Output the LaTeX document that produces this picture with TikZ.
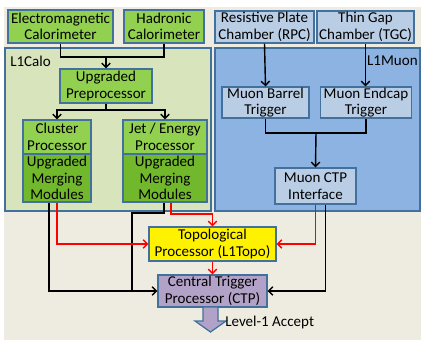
\documentclass[tikz,border=0pt]{standalone}
\usepackage{fontspec}
\setmainfont{Carlito}
\usetikzlibrary{arrows.meta}

\definecolor{paper}{HTML}{EEECE1}
\definecolor{calogreen}{HTML}{92D050}
\definecolor{mmgreen}{HTML}{72B82C}
\definecolor{caloregion}{HTML}{D8E4BC}
\definecolor{muonregion}{HTML}{8DB3E2}
\definecolor{muonbox}{HTML}{B9CDE5}
\definecolor{ctppurple}{HTML}{B3A2C7}
\definecolor{edgeblue}{HTML}{41719C}

\begin{document}
\begin{tikzpicture}[
            x=0.025cm, y=-0.025cm,
            every node/.style={font=\fontsize{10.7}{11.7}\selectfont, align=center, inner sep=0pt},
            sz/.style 2 args={minimum width=#1*0.025cm, minimum height=#2*0.025cm},
            box/.style={draw=edgeblue, line width=0.9pt},
            calobox/.style={box, fill=calogreen},
            mmbox/.style={box, fill=mmgreen},
            muonbx/.style={box, fill=muonbox},
            conn/.style={line width=1pt},
            tip/.style={-{Straight Barb[length=3pt,width=6pt]}},
            ]
            \useasboundingbox (0,0) rectangle (421,341);
            \fill[paper] (4,7) rectangle (421,340);

            % trigger regions
            \draw[box, fill=caloregion] (5,48) rectangle (211,211);
            \draw[box, fill=muonregion] (215,48) rectangle (420,211);
            \node[anchor=west] (calolabel) at (10,61) {L1Calo};
            \node[anchor=east] (muonlabel) at (418,61) {L1Muon};

            % detectors
            \node[calobox, sz={105}{33}] (em) at (60.5,26.5) {Electromagnetic\\Calorimeter};
            \node[calobox, sz={80}{33}] (had) at (164,26.5) {Hadronic\\Calorimeter};
            \node[muonbx, sz={99}{32}] (rpc) at (264.5,27) {Resistive Plate\\Chamber (RPC)};
            \node[muonbx, sz={97}{32}] (tgc) at (365.5,27) {Thin Gap\\Chamber (TGC)};

            % L1Calo
            \node[calobox, sz={92}{34}] (pre) at (106,86) {Upgraded\\Preprocessor};
            \node[calobox, sz={68}{34}] (clus) at (57,137) {Cluster\\Processor};
            \node[mmbox, sz={68}{48}] (clusmm) at (57,178) {Upgraded\\Merging\\Modules};
            \node[calobox, sz={84}{34}] (jet) at (165,137) {Jet / Energy\\Processor};
            \node[mmbox, sz={84}{48}] (jetmm) at (165,178) {Upgraded\\Merging\\Modules};

            % L1Muon
            \node[muonbx, sz={87}{31}] (barrel) at (265.5,102.5) {Muon Barrel\\Trigger};
            \node[muonbx, sz={91}{31}] (endcap) at (366,102.5) {Muon Endcap\\Trigger};
            \node[muonbx, sz={81}{36}] (muctp) at (315.5,186) {Muon CTP\\Interface};

            % topo and CTP
            \node[box, fill=yellow, sz={127}{34}] (topo) at (212.5,244) {Topological\\Processor (L1Topo)};
            \node[box, fill=ctppurple, sz={109}{32}] (ctp) at (212.5,291) {Central Trigger\\Processor (CTP)};

            \coordinate (calojoin) at (106,57);
            \coordinate (prejoin) at (106,110);
            \coordinate (mujoin) at (316,133);
            \coordinate (blkbend) at (132,213);
            \coordinate (blkmerge) at (132,291);
            \coordinate (redbend) at (190,214);

            \begin{scope}[conn]
                \draw (em.south) |- (calojoin) -| (had.south);
                \draw[tip] (calojoin) -- (pre.north);
                \draw (pre.south) -- (prejoin);
                \draw[tip] (prejoin) -| (clus.north);
                \draw[tip] (prejoin) -| (jet.north);
                \draw[tip] (rpc.south) -- (barrel.north);
                \draw[tip] (tgc.south) -- (tgc.south |- endcap.north);
                \draw (barrel.south) |- (mujoin) -| (endcap.south);
                \draw[tip] (mujoin) -- (muctp.north);

                \draw[tip] ([xshift=-0.2cm]clusmm.south) |- (ctp.west);
                \draw ([xshift=-0.025cm]jetmm.south) |- (blkbend) -- (blkmerge);
                \draw[tip] ([xshift=0.25cm]muctp.south) |- (ctp.east);

                \draw[tip, red] (clusmm.south) |- (topo.west);
                \draw[tip, red] ([xshift=0.15cm]jetmm.south) |- (redbend) -| (topo.north);
                \draw[tip, red] (muctp.south) |- (topo.east);
                \draw[tip, red] (topo.south) -- (ctp.north);
            \end{scope}

            % Level-1 Accept
            \draw[draw=edgeblue, fill=ctppurple, line width=0.9pt]
                (203,307) -- (218,307) -- (218,321) -- (226,321) -- (210.5,332)
                -- (195,321) -- (203,321) -- cycle;
            \node[anchor=west] (l1a) at (225,322) {Level-1 Accept};
        \end{tikzpicture}
\end{document}
